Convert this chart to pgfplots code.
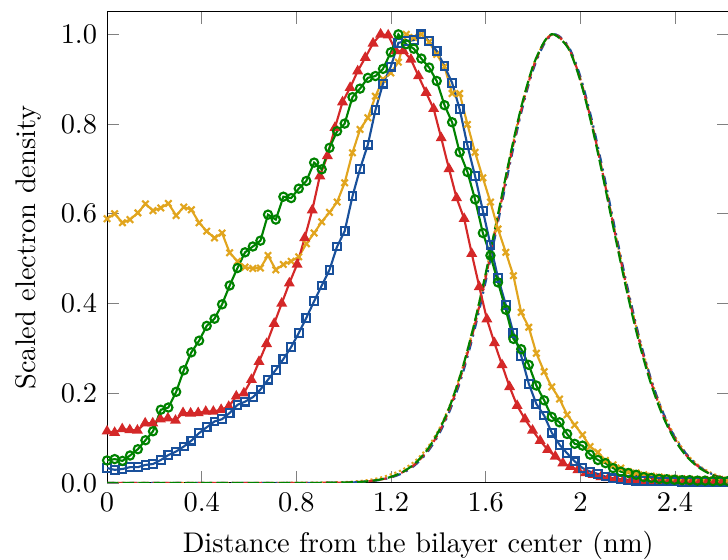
\documentclass[border=0pt]{standalone}
\usepackage{pgfplots}
\pgfplotsset{compat=1.18}
\definecolor{cblue}{RGB}{25,80,155}
\definecolor{cgreen}{RGB}{0,130,0}
\definecolor{cred}{RGB}{212,40,40}
\definecolor{cyellow}{RGB}{225,165,30}
\begin{document}
\begin{tikzpicture}
\useasboundingbox (-37.7pt,-27.1pt) rectangle (218.6pt,170.0pt);
\begin{axis}[at={(0pt,0pt)}, anchor=south west, scale only axis,
  width=219.1pt, height=165.8pt,
  xmin=0, xmax=2.63, ymin=0, ymax=1.05,
  xtick={0,0.4,0.8,1.2,1.6,2,2.4},
  ytick={0,0.2,0.4,0.6,0.8,1.0},
  yticklabel style={/pgf/number format/.cd, fixed, fixed zerofill, precision=1},
  xlabel={Distance from the bilayer center (nm)},
  ylabel={Scaled electron density},
  every axis plot/.append style={line width=0.75pt},
]
% ---- Gaussian-like profiles
\addplot[cyellow, densely dotted, smooth] coordinates {
(0,0) (0.6,0) (0.8,0.0002) (0.9,0.0006) (1.0,0.0018) (1.05,0.0034) (1.1,0.0060) (1.15,0.0110) (1.2,0.0190) (1.25,0.0300) (1.3,0.0480) (1.35,0.0760) (1.4,0.1170) (1.45,0.1750) (1.5,0.2530) (1.55,0.3510) (1.6,0.4660) (1.65,0.5920) (1.7,0.7200) (1.75,0.8360) (1.8,0.9290) (1.85,0.9850) (1.89,1.0) (1.95,0.9690) (2.0,0.8990) (2.05,0.7980) (2.1,0.6770) (2.15,0.5510) (2.2,0.4290) (2.25,0.3200) (2.3,0.2290) (2.35,0.1570) (2.4,0.1030) (2.45,0.0640) (2.5,0.0390) (2.55,0.0230) (2.6,0.0130) (2.65,0.0070)};
\addplot[cblue, dash dot, smooth] coordinates {
(0,0) (0.6,0) (0.8,0.0000) (0.9,0.0001) (1.0,0.0006) (1.05,0.0013) (1.1,0.0030) (1.15,0.0062) (1.2,0.0120) (1.25,0.0220) (1.3,0.0390) (1.35,0.0660) (1.4,0.1060) (1.45,0.1630) (1.5,0.2390) (1.55,0.3350) (1.6,0.4490) (1.65,0.5760) (1.7,0.7050) (1.75,0.8250) (1.8,0.9200) (1.85,0.9810) (1.895,1.0) (1.95,0.9730) (2.0,0.9060) (2.05,0.8060) (2.1,0.6860) (2.15,0.5570) (2.2,0.4340) (2.25,0.3220) (2.3,0.2290) (2.35,0.1560) (2.4,0.1010) (2.45,0.0630) (2.5,0.0370) (2.55,0.0210) (2.6,0.0110) (2.65,0.0060)};
\addplot[cred, dash pattern=on 2.5pt off 1.5pt, smooth] coordinates {
(0,0) (0.6,0) (0.8,0.0000) (0.9,0.0001) (1.0,0.0007) (1.05,0.0016) (1.1,0.0034) (1.15,0.0068) (1.2,0.0130) (1.25,0.0240) (1.3,0.0410) (1.35,0.0690) (1.4,0.1100) (1.45,0.1680) (1.5,0.2460) (1.55,0.3430) (1.6,0.4580) (1.65,0.5850) (1.7,0.7130) (1.75,0.8310) (1.8,0.9250) (1.85,0.9840) (1.892,1.0) (1.95,0.9700) (2.0,0.9000) (2.05,0.7980) (2.1,0.6760) (2.15,0.5480) (2.2,0.4250) (2.25,0.3150) (2.3,0.2230) (2.35,0.1510) (2.4,0.0980) (2.45,0.0600) (2.5,0.0360) (2.55,0.0200) (2.6,0.0110) (2.65,0.0060)};
\addplot[cgreen, dash pattern=on 4pt off 1.5pt, smooth] coordinates {
(0,0) (0.6,0) (0.8,0.0000) (0.9,0.0001) (1.0,0.0008) (1.05,0.0017) (1.1,0.0035) (1.15,0.0070) (1.2,0.0134) (1.25,0.0245) (1.3,0.0428) (1.35,0.0714) (1.4,0.1137) (1.45,0.1733) (1.5,0.2523) (1.55,0.3511) (1.6,0.4670) (1.65,0.5936) (1.7,0.7212) (1.75,0.8374) (1.8,0.9293) (1.85,0.9856) (1.888,1.0) (1.95,0.9679) (2.0,0.8962) (2.05,0.7931) (2.1,0.6708) (2.15,0.5423) (2.2,0.4189) (2.25,0.3093) (2.3,0.2183) (2.35,0.1473) (2.4,0.0949) (2.45,0.0585) (2.5,0.0344) (2.55,0.0194) (2.6,0.0104) (2.65,0.0054)};
% ---- yellow crosses
\addplot[cyellow, mark=x, mark size=1.6pt] coordinates {
(0,.589) (.032,.600) (.065,.580) (.097,.587) (.130,.602) (.162,.622) (.194,.607) (.227,.613) (.259,.623) (.292,.596)
(.324,.615) (.356,.609) (.389,.580) (.421,.561) (.454,.546) (.486,.557) (.518,.513) (.551,.494) (.583,.481) (.616,.478)
(.648,.479) (.680,.507) (.713,.475) (.745,.487) (.778,.494) (.810,.504) (.842,.533) (.875,.557) (.907,.582) (.940,.603)
(.972,.626) (1.004,.669) (1.037,.736) (1.069,.788) (1.102,.814) (1.134,.862) (1.166,.900) (1.199,.914) (1.231,.938) (1.264,1.000)
(1.296,.993) (1.328,1.000) (1.361,.983) (1.393,.955) (1.426,.928) (1.458,.868) (1.490,.868) (1.523,.799) (1.555,.737) (1.588,.680)
(1.620,.626) (1.652,.566) (1.685,.514) (1.717,.462) (1.750,.380) (1.782,.347) (1.814,.289) (1.847,.248) (1.879,.214) (1.912,.187)
(1.944,.152) (1.976,.129) (2.009,.107) (2.041,.081) (2.074,.068) (2.106,.050) (2.138,.040) (2.171,.033) (2.203,.025) (2.236,.022)
(2.268,.018) (2.300,.015) (2.333,.013) (2.365,.011) (2.398,.010) (2.430,.009) (2.462,.008) (2.495,.007) (2.527,.006) (2.560,.006)
(2.592,.005) (2.624,.005)};
% ---- red triangles
\addplot[cred, mark=triangle*, mark size=1.5pt] coordinates {
(0,.115) (.032,.112) (.064,.120) (.096,.118) (.128,.117) (.161,.133) (.193,.133) (.225,.142) (.257,.144) (.289,.139)
(.321,.156) (.353,.155) (.385,.156) (.417,.159) (.449,.159) (.482,.163) (.514,.170) (.546,.193) (.578,.200) (.610,.230)
(.642,.270) (.674,.310) (.706,.355) (.738,.400) (.770,.445) (.803,.487) (.835,.546) (.867,.608) (.899,.684) (.931,.729)
(.963,.792) (.995,.849) (1.027,.881) (1.059,.918) (1.091,.948) (1.124,.980) (1.156,1.000) (1.188,.998) (1.220,.963) (1.252,.963)
(1.284,.944) (1.316,.907) (1.348,.870) (1.380,.834) (1.412,.769) (1.445,.700) (1.477,.635) (1.509,.589) (1.541,.511) (1.573,.437)
(1.605,.365) (1.637,.312) (1.669,.263) (1.701,.214) (1.733,.172) (1.766,.142) (1.798,.117) (1.830,.094) (1.862,.074) (1.894,.059)
(1.926,.044) (1.958,.036) (1.990,.029) (2.022,.022) (2.054,.018) (2.087,.013) (2.119,.011) (2.151,.009) (2.183,.007) (2.215,.006)
(2.247,.005) (2.279,.005) (2.311,.004) (2.343,.004) (2.375,.003) (2.408,.003) (2.440,.003) (2.472,.002) (2.504,.002) (2.536,.002)
(2.568,.002) (2.600,.002) (2.632,.002)};
% ---- blue squares
\addplot[cblue, mark=square, mark size=1.35pt] coordinates {
(0,.033) (.032,.029) (.065,.031) (.097,.035) (.130,.035) (.162,.040) (.194,.042) (.227,.051) (.259,.062) (.292,.070)
(.324,.081) (.356,.094) (.389,.111) (.421,.124) (.454,.137) (.486,.142) (.518,.156) (.551,.174) (.583,.181) (.616,.191)
(.648,.208) (.680,.230) (.713,.252) (.745,.276) (.778,.303) (.810,.334) (.842,.368) (.875,.405) (.907,.440) (.940,.475)
(.972,.527) (1.004,.561) (1.037,.639) (1.069,.700) (1.102,.754) (1.134,.831) (1.166,.890) (1.199,.928) (1.231,.981) (1.264,.985)
(1.296,.987) (1.328,1.000) (1.361,.985) (1.393,.963) (1.426,.929) (1.458,.892) (1.490,.833) (1.523,.752) (1.555,.684) (1.588,.607)
(1.620,.531) (1.652,.457) (1.685,.397) (1.717,.334) (1.750,.283) (1.782,.221) (1.814,.176) (1.847,.150) (1.879,.112) (1.912,.085)
(1.944,.066) (1.976,.048) (2.009,.033) (2.041,.025) (2.074,.020) (2.106,.014) (2.138,.010) (2.171,.008) (2.203,.006) (2.236,.005)
(2.268,.004) (2.300,.004) (2.333,.003) (2.365,.003) (2.398,.003) (2.430,.002) (2.462,.002) (2.495,.002) (2.527,.002) (2.560,.002)
(2.592,.002) (2.624,.002)};
% ---- green circles
\addplot[cgreen, mark=o, mark size=1.45pt] coordinates {
(0,.050) (.032,.053) (.065,.049) (.097,.061) (.130,.075) (.162,.095) (.194,.115) (.227,.163) (.259,.168) (.292,.203)
(.324,.251) (.356,.291) (.389,.317) (.421,.350) (.454,.366) (.486,.398) (.518,.440) (.551,.479) (.583,.514) (.616,.527)
(.648,.540) (.680,.598) (.713,.587) (.745,.638) (.778,.635) (.810,.656) (.842,.673) (.875,.714) (.907,.699) (.940,.747)
(.972,.784) (1.004,.801) (1.037,.860) (1.069,.879) (1.102,.903) (1.134,.907) (1.166,.923) (1.199,.960) (1.231,1.000) (1.264,.978)
(1.296,.968) (1.328,.946) (1.361,.926) (1.393,.896) (1.426,.842) (1.458,.804) (1.490,.737) (1.523,.693) (1.555,.632) (1.588,.557)
(1.620,.507) (1.652,.447) (1.685,.386) (1.717,.321) (1.750,.298) (1.782,.263) (1.814,.217) (1.847,.184) (1.879,.147) (1.912,.135)
(1.944,.109) (1.976,.087) (2.009,.083) (2.041,.063) (2.074,.051) (2.106,.044) (2.138,.033) (2.171,.025) (2.203,.022) (2.236,.018)
(2.268,.013) (2.300,.011) (2.333,.009) (2.365,.008) (2.398,.007) (2.430,.006) (2.462,.006) (2.495,.005) (2.527,.005) (2.560,.004)
(2.592,.004) (2.624,.004)};
\end{axis}
\end{tikzpicture}
\end{document}
